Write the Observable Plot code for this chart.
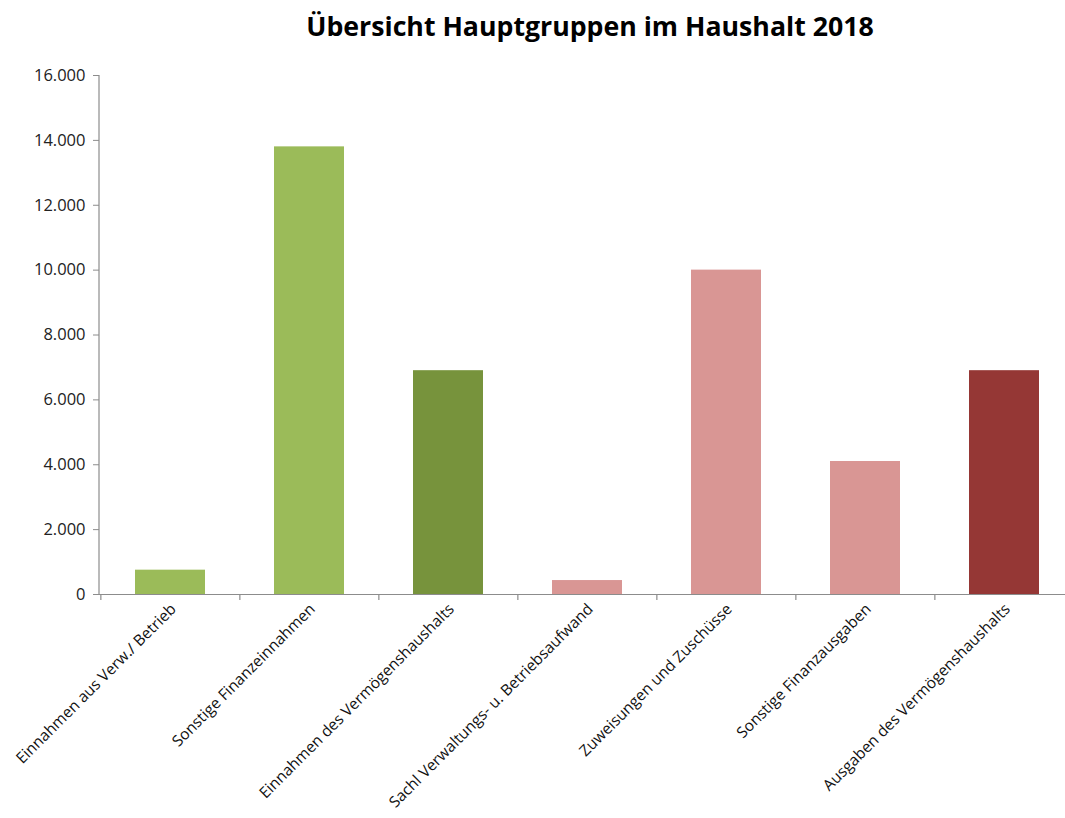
<!DOCTYPE html>
<html>
<head>
<meta charset="utf-8">
<script src="https://cdn.jsdelivr.net/npm/d3@7"></script>
<script src="https://cdn.jsdelivr.net/npm/@observablehq/plot@0.6"></script>
<style>
  html, body { margin: 0; padding: 0; background: #fff; overflow: hidden; }
  #wrap { position: relative; width: 1065px; height: 818px; overflow: hidden; }
  #title { position: absolute; left: 0; top: 7px; width: 1180px; text-align: center;
           font-family: "Open Sans", sans-serif; font-weight: 700; font-size: 26.7px; color: #000; }
</style>
</head>
<body>
<div id="wrap">
  <div id="title">Übersicht Hauptgruppen im Haushalt 2018</div>
  <div id="chart"></div>
</div>
<script>
const categories = [
  "Einnahmen aus Verw./ Betrieb",
  "Sonstige Finanzeinnahmen",
  "Einnahmen des Vermögenshaushalts",
  "Sachl Verwaltungs- u. Betriebsaufwand",
  "Zuweisungen und Zuschüsse",
  "Sonstige Finanzausgaben",
  "Ausgaben des Vermögenshaushalts"
];
const values = [750, 13800, 6900, 430, 10000, 4100, 6900];
const colors = ["#9BBB59", "#9BBB59", "#77933C", "#D99694", "#D99694", "#D99694", "#953735"];
const yTicks = [0, 2000, 4000, 6000, 8000, 10000, 12000, 14000, 16000];

const data = categories.map((c, i) => ({category: c, value: values[i], color: colors[i]}));
const de = d3.formatLocale({decimal: ",", thousands: ".", grouping: [3], currency: ["", " €"]});
const fmt = de.format(",d");

const xRange = [99, 1074];
const step = (xRange[1] - xRange[0]) / categories.length;

const chart = Plot.plot({
  width: 1065,
  height: 818,
  marginTop: 75,
  marginBottom: 224,
  marginLeft: 99,
  marginRight: 0,
  style: {fontFamily: "Open Sans, sans-serif", fontSize: "16px", color: "#222"},
  x: {domain: categories, range: xRange, paddingInner: 0.5, paddingOuter: 0.25, label: null},
  y: {domain: [0, 16000], range: [594, 75], label: null},
  marks: [
    Plot.barY(data, {x: "category", y: "value", fill: "color"}),
    Plot.ruleY([0], {stroke: "#8c8c8c", strokeWidth: 1.2}),
    Plot.ruleX(categories, {x: d => d, y1: 0, y2: 0, dx: -step / 2, insetBottom: -6, stroke: "#8c8c8c", strokeWidth: 1.2}),
    Plot.axisY({ticks: yTicks, tickFormat: fmt, tickSize: 6, tickPadding: 8, stroke: "#8c8c8c", fill: "#222", fontSize: 16.5, label: null}),
    Plot.axisX({tickSize: 0, tickRotate: -45, tickPadding: 12, dx: 3, fontSize: 15.5, fill: "#111", label: null})
  ]
});
// y axis domain line
d3.select(chart).append("line")
  .attr("x1", xRange[0]).attr("x2", xRange[0]).attr("y1", 75).attr("y2", 594)
  .attr("stroke", "#8c8c8c").attr("stroke-width", 1.2);
document.getElementById("chart").appendChild(chart);
</script>
</body>
</html>
